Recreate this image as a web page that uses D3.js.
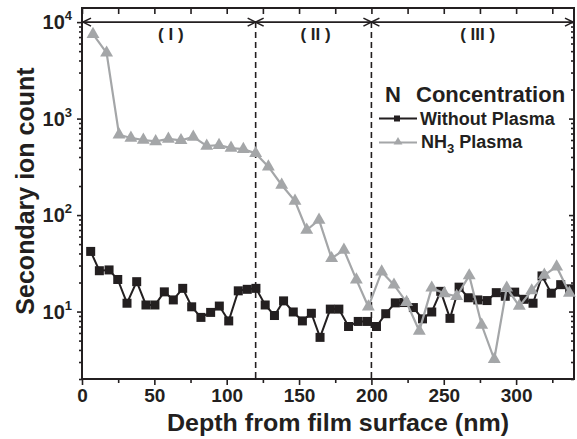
<!DOCTYPE html>
<html>
<head>
<meta charset="utf-8">
<script src="https://cdn.jsdelivr.net/npm/d3@7"></script>
<style>
  html, body { margin: 0; padding: 0; background: #fff; }
  svg { display: block; font-family: "Liberation Sans", Arial, Helvetica, sans-serif; font-weight: bold; }
</style>
</head>
<body>
<svg id="chart" width="577" height="439"></svg>
<script>
// SIMS nitrogen depth profiles: film without plasma vs. NH3 plasma treated film
const depthWithout = [6, 12, 18.7, 24.7, 31.1, 37.8, 44.2, 50.4, 56.9, 63.1, 69.6, 75.8, 82.2, 88.9,
  94.9, 101.4, 108, 114.2, 120.2, 126.6, 133, 139.3, 146, 152.3, 158.5, 164.5, 171.6, 177.5, 184.2,
  190.9, 197.3, 203.5, 209.9, 216.5, 222.5, 229, 235.3, 241.7, 247.9, 254.3, 260.6, 267, 273.5,
  279.9, 286.3, 292.5, 299, 305.5, 311.7, 317.9, 324.3, 330.8, 337];
const countWithout = [42, 26.5, 27, 21.5, 12.2, 20.4, 11.7, 11.7, 16, 13.2, 17.4, 11.2, 8.7, 9.8,
  11.4, 8, 16.4, 17, 17.4, 11.7, 9.1, 12.9, 9.9, 8, 9.6, 5.4, 10.6, 10.6, 7,
  7.9, 7.9, 7, 9.5, 12.3, 12.4, 11, 8.4, 9.9, 16.2, 8.5, 17.9, 13.9, 13.2,
  13, 15.7, 14.4, 15.9, 13.4, 12.2, 23.4, 15.5, 19, 17.2];

const depthNH3 = [7.6, 17, 25.6, 33.8, 42.4, 50.9, 59.7, 68.4, 76.9, 86.2, 94.7, 103, 111.5, 120,
  128.8, 138, 147.2, 155.3, 163.8, 172.5, 181, 189.6, 197.9, 207.1, 215.6, 224.3, 233.1, 241.7,
  250.4, 258.9, 267.6, 276.2, 284.9, 293.5, 302.2, 310.8, 319.5, 328, 336.8];
const countNH3 = [7500, 4800, 680, 630, 600, 580, 615, 595, 645, 520, 530, 495, 482, 436,
  317, 205, 140, 70, 89, 35.6, 43.5, 21.4, 11.2, 25.9, 18.9, 12.5, 6.3, 17.6,
  15.4, 14.4, 23.6, 7.25, 3.2, 17.6, 11.4, 16.5, 23.9, 29.2, 15.6];

const regionBounds = [0, 120, 200, 340];
const regionLabels = ["( I )", "( II )", "( III )"];
const xTickValues = [0, 50, 100, 150, 200, 250, 300];
const yTickExponents = [1, 2, 3, 4];

const ink = "#231f20";
const grey = "#a4a6a8";

const svg = d3.select("#chart");
const x = d3.scaleLinear().domain([0, 340]).range([82, 574]);
const y = d3.scaleLog().domain([2, 14000]).range([379, 8]);
const [x0, x1] = x.range();
const [yb, yt] = y.range();

// ---- axes ----
const minorX = d3.range(25, 340, 50);
const majorY = yTickExponents.map(e => Math.pow(10, e));
const minorY = y.ticks().filter(v => !majorY.some(m => Math.abs(m - v) < 1e-9));

function styleAxis(g) {
  g.select(".domain").remove();
  g.selectAll(".tick line").attr("stroke", ink).attr("stroke-width", 1.6);
}

// bottom: outward ticks with labels
svg.append("g").attr("transform", `translate(0,${yb})`)
  .call(d3.axisBottom(x).tickValues(xTickValues).tickSize(6).tickPadding(4).tickFormat(d3.format("d")))
  .call(styleAxis)
  .call(g => g.selectAll("text").attr("font-size", 19).attr("font-weight", "bold")
    .attr("font-family", "Liberation Sans, Arial, sans-serif").attr("fill", ink));
svg.append("g").attr("transform", `translate(0,${yb})`)
  .call(d3.axisBottom(x).tickValues(minorX).tickSize(4).tickFormat(""))
  .call(styleAxis);

// top: inward ticks
svg.append("g").attr("transform", `translate(0,${yt})`)
  .call(d3.axisTop(x).tickValues(xTickValues.concat(minorX)).tickSize(-6).tickFormat(""))
  .call(styleAxis);

// left: outward log ticks
svg.append("g").attr("transform", `translate(${x0},0)`)
  .call(d3.axisLeft(y).tickValues(majorY).tickSize(5).tickFormat(""))
  .call(styleAxis);
svg.append("g").attr("transform", `translate(${x0},0)`)
  .call(d3.axisLeft(y).tickValues(minorY).tickSize(3).tickFormat(""))
  .call(styleAxis);

// right: inward log ticks
svg.append("g").attr("transform", `translate(${x1},0)`)
  .call(d3.axisRight(y).tickValues(majorY).tickSize(-5).tickFormat(""))
  .call(styleAxis);
svg.append("g").attr("transform", `translate(${x1},0)`)
  .call(d3.axisRight(y).tickValues(minorY).tickSize(-3).tickFormat(""))
  .call(styleAxis);

// power-of-ten labels
const yLab = svg.append("g").selectAll("text").data(yTickExponents).join("text")
  .attr("x", 72).attr("y", e => y(Math.pow(10, e)) + 7)
  .attr("text-anchor", "end").attr("font-size", 20).attr("fill", ink);
yLab.append("tspan").text("10");
yLab.append("tspan").attr("font-size", 13).attr("dy", -9).text(e => e);

// frame
svg.append("rect").attr("x", x0).attr("y", yt).attr("width", x1 - x0).attr("height", yb - yt)
  .attr("fill", "none").attr("stroke", ink).attr("stroke-width", 2);

// axis titles
svg.append("text").attr("x", 338).attr("y", 431).attr("text-anchor", "middle")
  .attr("font-size", 24).attr("fill", ink).text("Depth from film surface (nm)")
  .attr("textLength", 342).attr("lengthAdjust", "spacingAndGlyphs");
svg.append("text").attr("transform", "translate(34,191) rotate(-90)").attr("text-anchor", "middle")
  .attr("font-size", 25).attr("fill", ink).text("Secondary ion count");

// ---- region markers ----
const arrowY = y(1e4);
svg.append("line").attr("x1", x0).attr("x2", x1).attr("y1", arrowY).attr("y2", arrowY)
  .attr("stroke", ink).attr("stroke-width", 1.6);
regionBounds.slice(1, -1).forEach(b => {
  svg.append("line").attr("x1", x(b)).attr("x2", x(b)).attr("y1", arrowY).attr("y2", yb)
    .attr("stroke", ink).attr("stroke-width", 1.6).attr("stroke-dasharray", "6,4");
});
const head = (tx, dir) => `M${tx + dir * 8},${arrowY - 4}L${tx},${arrowY}L${tx + dir * 8},${arrowY + 4}`;
for (let i = 0; i < regionBounds.length - 1; i++) {
  const a = x(regionBounds[i]) + (i === 0 ? 1 : 0);
  const b = x(regionBounds[i + 1]) - (i === regionBounds.length - 2 ? 1 : 0);
  svg.append("path").attr("d", head(a, 1)).attr("fill", "none").attr("stroke", ink).attr("stroke-width", 1.6);
  svg.append("path").attr("d", head(b, -1)).attr("fill", "none").attr("stroke", ink).attr("stroke-width", 1.6);
}
svg.append("g").selectAll("text").data(regionLabels).join("text")
  .attr("x", (d, i) => x((regionBounds[i] + regionBounds[i + 1]) / 2) + (i === 2 ? 5 : 2))
  .attr("y", 40).attr("text-anchor", "middle").attr("font-size", 17).attr("fill", ink)
  .style("white-space", "pre").text(d => d);

// ---- data ----
const without = depthWithout.map((d, i) => [d, countWithout[i]]);
const nh3 = depthNH3.map((d, i) => [d, countNH3[i]]);
const line = d3.line().x(d => x(d[0])).y(d => y(d[1]));

svg.append("path").datum(without).attr("d", line).attr("fill", "none")
  .attr("stroke", ink).attr("stroke-width", 2);
svg.append("g").selectAll("rect").data(without).join("rect")
  .attr("x", d => x(d[0]) - 4.5).attr("y", d => y(d[1]) - 4.5).attr("width", 9).attr("height", 9)
  .attr("fill", ink);

const tri = d3.symbol(d3.symbolTriangle).size(72);
svg.append("path").datum(nh3).attr("d", line).attr("fill", "none")
  .attr("stroke", grey).attr("stroke-width", 2.2);
svg.append("g").selectAll("path").data(nh3).join("path")
  .attr("transform", d => `translate(${x(d[0])},${y(d[1])})`).attr("d", tri).attr("fill", grey);

// ---- legend ----
svg.append("text").attr("x", 385).attr("y", 102).attr("font-size", 22).attr("fill", ink).text("N");
svg.append("text").attr("x", 416).attr("y", 102).attr("font-size", 22).attr("fill", ink).text("Concentration");

svg.append("line").attr("x1", 379).attr("x2", 417).attr("y1", 118.5).attr("y2", 118.5)
  .attr("stroke", ink).attr("stroke-width", 2);
svg.append("rect").attr("x", 394).attr("y", 115.5).attr("width", 6).attr("height", 6).attr("fill", ink);
svg.append("text").attr("x", 420).attr("y", 125).attr("font-size", 18).attr("fill", ink).text("Without Plasma");

svg.append("line").attr("x1", 379).attr("x2", 417).attr("y1", 142.5).attr("y2", 142.5)
  .attr("stroke", grey).attr("stroke-width", 2.2);
svg.append("path").attr("transform", "translate(398,142)").attr("d", d3.symbol(d3.symbolTriangle).size(34)).attr("fill", grey);
const nhText = svg.append("text").attr("x", 421).attr("y", 148).attr("font-size", 18).attr("fill", ink);
nhText.append("tspan").text("NH");
nhText.append("tspan").attr("font-size", 13).attr("dy", 5).text("3");
nhText.append("tspan").attr("dy", -5).text(" Plasma");
</script>
</body>
</html>
